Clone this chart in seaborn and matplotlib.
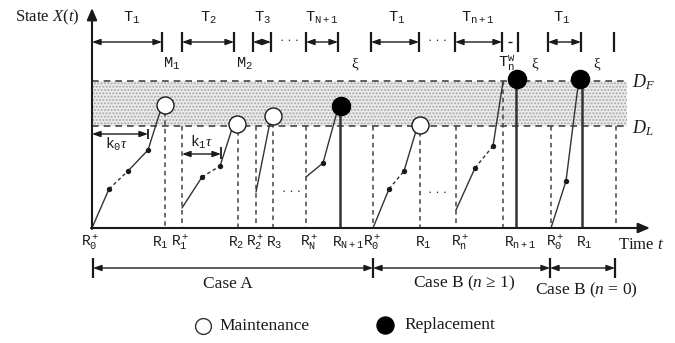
import numpy as np
import pandas as pd
import seaborn as sns
import matplotlib.pyplot as plt
from matplotlib.patches import Rectangle

sns.set_style("white")
plt.rcParams['font.family'] = ['Liberation Serif', 'DejaVu Serif']
plt.rcParams['mathtext.fontset'] = 'custom'
plt.rcParams['mathtext.rm'] = 'Liberation Serif'
plt.rcParams['mathtext.it'] = 'Liberation Serif:italic'
plt.rcParams['mathtext.tt'] = 'Liberation Mono'

INK = '#1a1a1a'

# --- diagram data (pixel space of the schematic) ---
origin_x, origin_y = 92, 228
level_DF, level_DL = 81, 126
zone_right = 627

# degradation path segments
seg_x = [[92, 109], [109, 128], [128, 148, 160],
         [182, 202], [202, 220], [220, 232],
         [256, 270],
         [306, 323, 337],
         [373, 389], [389, 404], [404, 416],
         [456, 475], [475, 493], [493, 503],
         [551, 566, 578]]
seg_y = [[228, 189], [189, 171], [171, 150, 112],
         [208, 177], [177, 166], [166, 129],
         [192, 122],
         [177, 163, 112],
         [228, 189], [189, 171], [171, 131],
         [210, 168], [168, 146], [146, 82],
         [228, 181, 86]]
seg_style = ['solid', 'dashed', 'solid',
             'solid', 'dashed', 'solid',
             'solid',
             'solid',
             'solid', 'dashed', 'solid',
             'solid', 'dashed', 'solid',
             'solid']

# inspection points on the paths
dot_x = [109, 128, 148, 202, 220, 323, 389, 404, 475, 493, 566]
dot_y = [189, 171, 150, 177, 166, 163, 189, 171, 168, 146, 181]

# maintenance (open) and replacement (filled) events
maint_x = [165, 237, 273, 420]
maint_y = [105, 124, 116, 125]
repl_x = [341, 517, 580]
repl_y = [106, 79, 79]

# vertical guide lines
dash_vx = [165, 182, 238, 256, 273, 306, 373, 420, 456, 503, 551, 616]
dash_vtop = [112, 126, 131, 126, 123, 126, 126, 132, 126, 81, 126, 126]
solid_vx = [340, 516, 582]
solid_vtop = [106, 79, 79]

# top interval arrows
top_spans = [(92, 162), (182, 234), (253, 271), (306, 338),
             (371, 419), (455, 502), (548, 581)]
top_ticks = [162, 182, 234, 253, 271, 306, 338, 371, 419, 455, 502, 518, 548, 581, 614]
top_labels = [r'$\mathtt{T_1}$', r'$\mathtt{T_2}$', r'$\mathtt{T_3}$', r'$\mathtt{T_{N+1}}$',
              r'$\mathtt{T_1}$', r'$\mathtt{T_{n+1}}$', r'$\mathtt{T_1}$']
top_label_x = [132, 208, 262, 322, 397, 478, 562]
mid_labels = [r'$\mathtt{M_1}$', r'$\mathtt{M_2}$', r'$\mathtt{T_n^w}$', 'ξ', 'ξ', 'ξ']
mid_label_x = [172, 244, 507, 355, 535, 597]

# time axis labels
r_labels = [r'$\mathtt{R_0^+}$', r'$\mathtt{R_1}$', r'$\mathtt{R_1^+}$', r'$\mathtt{R_2}$',
            r'$\mathtt{R_2^+}$', r'$\mathtt{R_3}$', r'$\mathtt{R_N^+}$', r'$\mathtt{R_{N+1}}$',
            r'$\mathtt{R_0^+}$', r'$\mathtt{R_1}$', r'$\mathtt{R_n^+}$', r'$\mathtt{R_{n+1}}$',
            r'$\mathtt{R_0^+}$', r'$\mathtt{R_1}$']
r_label_x = [90, 160, 180, 236, 255, 274, 309, 348, 372, 423, 460, 520, 555, 584]

# cases
case_bounds = [93, 373, 550, 615]
case_labels = ['Case A', r'Case B ($n$ ≥ 1)', r'Case B ($n$ = 0)']
case_label_x = [228, 464, 586]
case_label_y = [284, 283, 290]

# --- figure ---
fig = plt.figure(figsize=(6.75, 3.43), dpi=100)
ax = fig.add_axes([0, 0, 1, 1])

# shaded zone between D_L and D_F
ax.add_patch(Rectangle((origin_x, level_DF), zone_right - origin_x, level_DL - level_DF,
                       facecolor='#ececec', edgecolor='#a8a8a8', hatch='.....', lw=0, zorder=0))
ax.hlines([level_DF, level_DL], origin_x, zone_right, colors='#444444', lw=1.2,
          linestyles=(0, (4, 3)), zorder=1)

ax.vlines(dash_vx, dash_vtop, origin_y, colors='#444444', lw=1.1, linestyles=(0, (3, 2.5)), zorder=1)
ax.vlines(solid_vx, solid_vtop, origin_y, colors='#333333', lw=1.8, zorder=2)

# degradation paths
rows = []
for i, (xs, ys) in enumerate(zip(seg_x, seg_y)):
    for x, y in zip(xs, ys):
        rows.append({'x': x, 'y': y, 'seg': i, 'style': seg_style[i]})
paths = pd.DataFrame(rows)
sns.lineplot(data=paths, x='x', y='y', units='seg', estimator=None, sort=False,
             style='style', dashes={'solid': '', 'dashed': (2.5, 2)},
             color='#333333', lw=1.0, legend=False, ax=ax, zorder=3)

sns.scatterplot(x=dot_x, y=dot_y, s=15, color=INK, edgecolor=INK, linewidth=0, ax=ax, zorder=4)
sns.scatterplot(x=maint_x, y=maint_y, s=150, color='white', edgecolor=INK, linewidth=1.0,
                ax=ax, zorder=5)
sns.scatterplot(x=repl_x, y=repl_y, s=170, color='black', edgecolor='black', linewidth=1.0,
                ax=ax, zorder=5)

# axes with arrows
arrow_kw = dict(arrowstyle='-|>,head_length=0.7,head_width=0.3', lw=1.5, color=INK,
                shrinkA=0, shrinkB=0)
ax.annotate('', xy=(origin_x, 8), xytext=(origin_x, origin_y + 1), arrowprops=arrow_kw)
ax.annotate('', xy=(650, origin_y), xytext=(origin_x - 1, origin_y), arrowprops=arrow_kw)
ax.text(80, 17, r'State $X(t)$', ha='right', va='center', fontsize=12, color=INK)
ax.text(618, 245, r'Time $t$', ha='left', va='center', fontsize=12, color=INK)
ax.text(632, 82, r'$D_F$', ha='left', va='center', fontsize=13, color=INK)
ax.text(632, 128, r'$D_L$', ha='left', va='center', fontsize=13, color=INK)

# double-headed interval arrows
dbl = dict(arrowstyle='<|-|>,head_length=0.5,head_width=0.18', lw=1.0, color=INK,
           shrinkA=0, shrinkB=0)
for a, b in top_spans:
    ax.annotate('', xy=(b, 42), xytext=(a, 42), arrowprops=dbl)
ax.vlines(top_ticks, 32, 52, colors=INK, lw=1.6)
ax.hlines(42, 508, 512, colors=INK, lw=1.0)
for x in [289, 438]:
    ax.text(x, 41, '· · ·', ha='center', va='center', fontsize=9, color=INK)
for x, lab in zip(top_label_x, top_labels):
    ax.text(x, 18, lab, ha='center', va='center', fontsize=11, color=INK)
for x, lab in zip(mid_label_x, mid_labels):
    ax.text(x, 64, lab, ha='center', va='center', fontsize=11, color=INK)

# k tau arrows
ax.annotate('', xy=(148, 134), xytext=(origin_x, 134), arrowprops=dbl)
ax.vlines(148, 129, 139, colors=INK, lw=1.3)
ax.text(117, 144, r'$\mathtt{k_0}\tau$', ha='center', va='center', fontsize=10.5, color=INK)
ax.annotate('', xy=(221, 154), xytext=(182, 154), arrowprops=dbl)
ax.vlines(221, 147, 159, colors=INK, lw=1.3)
ax.text(202, 142, r'$\mathtt{k_1}\tau$', ha='center', va='center', fontsize=10.5, color=INK)

# ellipses inside the plot
ax.text(291, 192, '· · ·', ha='center', va='center', fontsize=9, color=INK)
ax.text(437, 193, '· · ·', ha='center', va='center', fontsize=9, color=INK)

for x, lab in zip(r_label_x, r_labels):
    ax.text(x, 243, lab, ha='center', va='center', fontsize=10.5, color=INK)

# case brackets
for a, b in zip(case_bounds[:-1], case_bounds[1:]):
    ax.annotate('', xy=(b, 268), xytext=(a, 268), arrowprops=dbl)
ax.vlines(case_bounds, 258, 278, colors=INK, lw=1.6)
for x, y, lab in zip(case_label_x, case_label_y, case_labels):
    ax.text(x, y, lab, ha='center', va='center', fontsize=12.5, color=INK)

# legend
ax.scatter([203], [326], s=130, facecolor='white', edgecolor='#333333', linewidth=1.0)
ax.text(219, 326, 'Maintenance', ha='left', va='center', fontsize=12.5, color=INK)
ax.scatter([385], [325], s=150, facecolor='black', edgecolor='black')
ax.text(404, 325, 'Replacement', ha='left', va='center', fontsize=12.5, color=INK)

ax.set_xlim(0, 675)
ax.set_ylim(343, 0)
ax.axis('off')
fig.savefig('out.png', dpi=100)
